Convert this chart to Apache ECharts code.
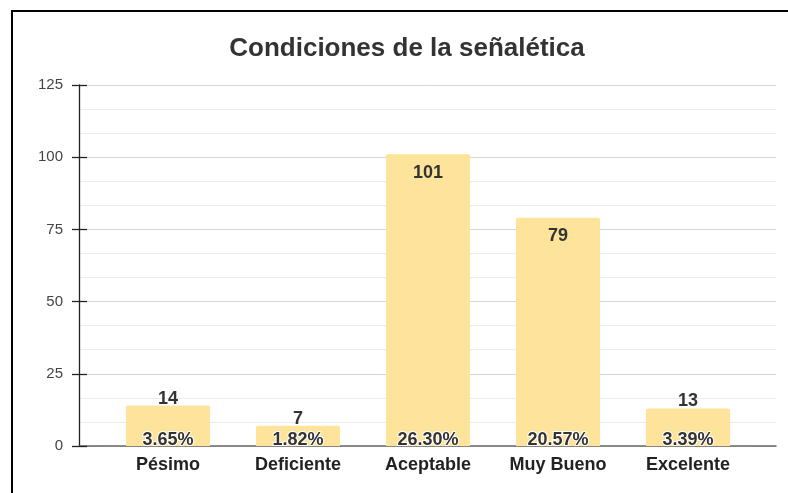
<!DOCTYPE html>
<html><head><meta charset="utf-8">
<script src="https://cdn.jsdelivr.net/npm/echarts@6/dist/echarts.min.js"></script>
<style>
html,body{margin:0;padding:0;background:#fff;}
#c{position:absolute;left:0;top:0;width:788px;height:493px;}
#frame{position:absolute;left:11px;top:10px;width:800px;height:500px;border-top:2px solid #000;border-left:2px solid #000;pointer-events:none;}
</style></head>
<body>
<div id="c"></div>
<div id="frame"></div>
<script>
const categories = ['Pésimo', 'Deficiente', 'Aceptable', 'Muy Bueno', 'Excelente'];
const values = [14, 7, 101, 79, 13];
const percentLabels = ['3.65%', '1.82%', '26.30%', '20.57%', '3.39%'];
const yTicks = [0, 25, 50, 75, 100, 125];

(function () {
const FONT = 'Liberation Sans';
const chart = echarts.init(document.getElementById('c'), null, {renderer: 'canvas'});
const gTop = 85, gBottom = 47;
chart.setOption({
  animation: false,
  textStyle: {fontFamily: FONT},
  title: {
    text: 'Condiciones de la señalética',
    left: 402, top: 31, textAlign: 'center',
    textStyle: {fontFamily: FONT, fontSize: 26, fontWeight: 'bold', color: '#333'}
  },
  grid: [
    {left: 79, right: 12, top: gTop, bottom: gBottom},
    {left: 103, right: 35, top: gTop, bottom: gBottom}
  ],
  xAxis: [
    {gridIndex: 0, type: 'value', min: 0, max: 1,
     axisLine: {show: true, lineStyle: {color: '#666', width: 1.5}},
     axisTick: {show: false}, axisLabel: {show: false}, splitLine: {show: false}},
    {gridIndex: 1, type: 'category', data: categories,
     axisLine: {show: true, lineStyle: {color: '#888', width: 1, type: [1, 1]}},
     axisTick: {show: false},
     axisLabel: {margin: 10, fontFamily: FONT, fontSize: 18, fontWeight: 'bold', color: '#222'}}
  ],
  yAxis: [
    {gridIndex: 0, type: 'value', min: yTicks[0], max: yTicks[yTicks.length - 1], interval: 25,
     axisLine: {show: true, lineStyle: {color: '#222', width: 1.3}},
     axisTick: {show: true, length: 7, lineStyle: {color: '#222', width: 1.3}},
     axisLabel: {margin: 16, fontFamily: FONT, fontSize: 15, color: '#444'},
     splitLine: {show: true, lineStyle: {color: '#d6d6d6', width: 1}},
     minorTick: {show: false, splitNumber: 3},
     minorSplitLine: {show: true, lineStyle: {color: '#ececec', width: 1}}},
    {gridIndex: 1, type: 'value', min: yTicks[0], max: yTicks[yTicks.length - 1], interval: 25,
     offset: 24,
     axisLine: {show: false},
     axisTick: {show: true, inside: true, length: 8, lineStyle: {color: '#222', width: 1.3}},
     axisLabel: {show: false}, splitLine: {show: false}}
  ],
  series: [
    {type: 'bar', xAxisIndex: 1, yAxisIndex: 1, barWidth: 84,
     itemStyle: {color: '#fde49a', borderRadius: [2, 2, 0, 0]},
     data: values.map(v => ({value: v, label: {position: v > 50 ? 'insideTop' : 'top', distance: v > 50 ? 9.5 : -2}})),
     label: {show: true, fontFamily: FONT, fontSize: 18, fontWeight: 'bold', color: '#333'}},
    {type: 'bar', xAxisIndex: 1, yAxisIndex: 1, barWidth: 84, barGap: '-100%',
     itemStyle: {color: 'rgba(0,0,0,0)'},
     data: values,
     label: {show: true, position: 'insideBottom', distance: -3,
       formatter: p => percentLabels[p.dataIndex],
       fontFamily: FONT, fontSize: 18, fontWeight: 'bold', color: '#333',
       textBorderColor: '#fff', textBorderWidth: 2}}
  ]
});
})();
</script>
</body></html>
